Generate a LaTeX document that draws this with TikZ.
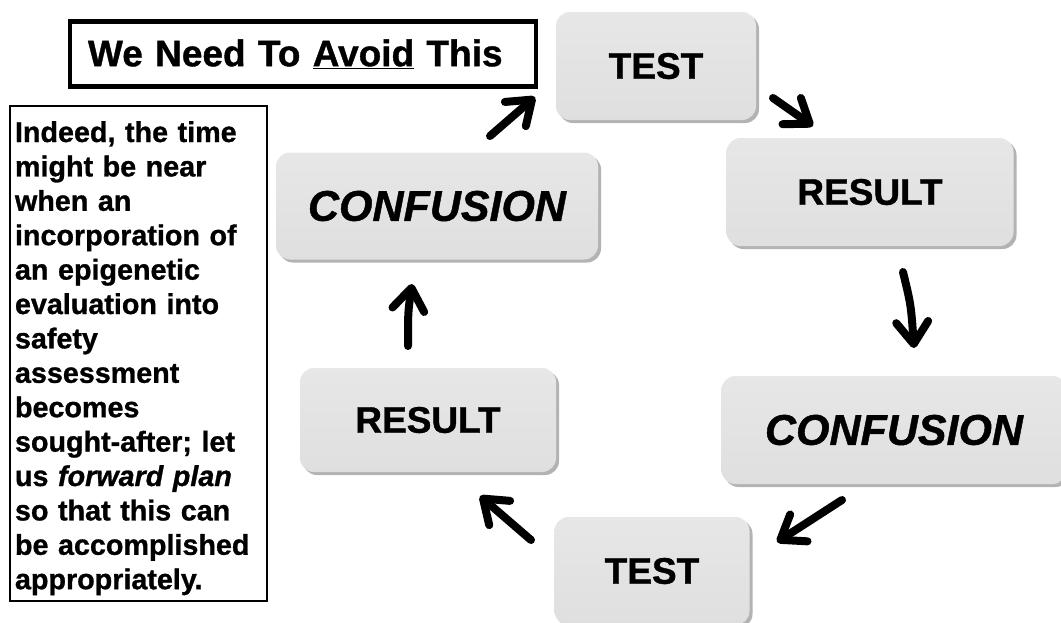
\documentclass[tikz,border=0pt]{standalone}
\usepackage{fontspec}
\setmainfont{Liberation Sans}[BoldFeatures={FakeBold=1}, BoldItalicFeatures={FakeBold=1}]
\usetikzlibrary{arrows.meta,shadows}
\tikzset{
  stepbox/.style={rectangle, rounded corners=14pt, top color=gray!19, bottom color=gray!25,
    drop shadow={shadow xshift=3pt, shadow yshift=-3pt, opacity=0.6},
    font=\fontsize{37}{40}\selectfont\bfseries},
  confbox/.style={stepbox, font=\fontsize{43}{46}\selectfont\bfseries\itshape},
  flow/.style={line width=8pt, line cap=round, -{Straight Barb[length=22pt,width=32pt,line cap=round,round]}},
}
\begin{document}
\begin{tikzpicture}[x=1pt,y=-1pt]
  \useasboundingbox (0,0) rectangle (1061,622);
  % the cycle
  \node[stepbox, minimum width=200pt, minimum height=108pt] (test1) at (656,66) {TEST};
  \node[stepbox, minimum width=287pt, minimum height=108pt] (res1) at (870,192) {RESULT};
  \node[confbox, minimum width=345pt, minimum height=108pt] (conf2) at (894,430) {CONFUSION};
  \node[stepbox, minimum width=195pt, minimum height=108pt] (test2) at (652,571) {TEST};
  \node[stepbox, minimum width=256pt, minimum height=104pt] (res2) at (428,420) {RESULT};
  \node[confbox, minimum width=322pt, minimum height=107pt] (conf1) at (437,206) {CONFUSION};
  % arrow ends
  \coordinate (c1t) at (490,136); \coordinate (c1h) at (535,97);
  \coordinate (t1t) at (773,98);  \coordinate (t1h) at (813,126);
  \coordinate (r1t) at (903,272); \coordinate (r1h) at (914,348);
  \coordinate (c2t) at (842,500); \coordinate (c2h) at (777,542);
  \coordinate (t2t) at (531,540); \coordinate (t2h) at (480,496);
  \coordinate (r2t) at (408,346); \coordinate (r2h) at (412,284);
  \draw[flow] (c1t) -- (c1h);
  \draw[flow] (t1t) -- (t1h);
  \draw[flow] (r1t) .. controls (911,305) .. (r1h);
  \draw[flow] (c2t) -- (c2h);
  \draw[flow] (t2t) -- (t2h);
  \draw[flow] (r2t) .. controls (408,312) .. (r2h);
  % side notes
  \node[draw, line width=4.5pt, text width=430pt, align=left, inner xsep=18pt, minimum height=65pt,
    font=\fontsize{37}{40}\selectfont\bfseries] (avoid) at (303,54) {We Need To \underline{Avoid} This};
  \node[draw, line width=2pt, anchor=north west, text width=247pt, inner xsep=5pt, inner ysep=6pt,
    text height=30pt, align=left, font=\fontsize{28.7}{34.4}\selectfont\bfseries] (note) at (9,105)
    {Indeed, the time\\ might be near\\ when an\\ incorporation of\\ an epigenetic\\ evaluation into\\ safety\\
     assessment\\ becomes\\ sought-after; let\\ us \textit{forward plan}\\ so that this can\\ be accomplished\\ appropriately.};
\end{tikzpicture}
\end{document}
